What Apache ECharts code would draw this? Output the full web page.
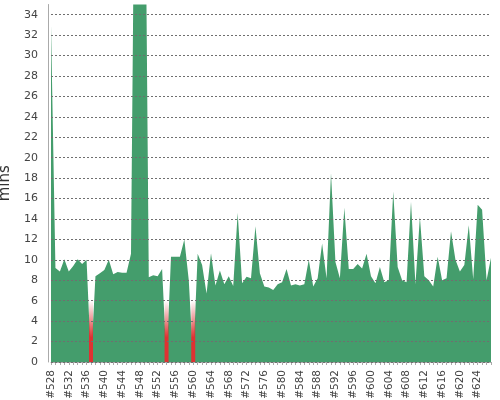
<!DOCTYPE html>
<html>
<head>
<meta charset="utf-8">
<script src="https://cdn.jsdelivr.net/npm/echarts@6/dist/echarts.min.js"></script>
<style>
  html, body { margin: 0; padding: 0; background: #fff; }
  #chart { width: 500px; height: 400px; }
</style>
</head>
<body>
<div id="chart"></div>
<script>
// build numbers #528 .. #627
const builds = Array.from({ length: 100 }, (_, i) => '#' + (528 + i));

// duration of successful builds (mins), 0 where the build failed
const successMins = [
  33, 9.2, 8.85, 10.05, 8.85, 9.4, 10.05, 9.6, 10.0, 0,
  8.4, 8.7, 9.0, 10.0, 8.6, 8.8, 8.75, 8.75, 10.6, 60,
  60, 60, 8.3, 8.5, 8.4, 9.1, 0, 10.3, 10.3, 10.3,
  12.0, 8.0, 0, 10.6, 9.5, 6.7, 10.65, 7.5, 8.95, 7.6,
  8.4, 7.45, 14.6, 7.7, 8.35, 8.2, 13.3, 8.7, 7.4, 7.3,
  7.05, 7.6, 7.8, 9.1, 7.5, 7.6, 7.5, 7.6, 10.0, 7.4,
  8.2, 11.6, 8.2, 18.5, 9.8, 8.2, 15.1, 9.1, 9.1, 9.6,
  9.15, 10.6, 8.4, 7.7, 9.3, 7.8, 8.0, 16.7, 9.3, 8.0,
  7.8, 15.7, 7.6, 14.2, 8.4, 8.0, 7.4, 10.3, 8.0, 8.2,
  12.8, 10.0, 8.85, 9.5, 13.4, 8.1, 15.4, 14.9, 8.0, 10.2
];

// failed builds (#537, #554, #560)
const failedMins = builds.map(() => null);
failedMins[9] = 6;
failedMins[26] = 6;
failedMins[32] = 6;

const FONT = 'DejaVu Sans';

const chart = echarts.init(document.getElementById('chart'), null, { renderer: 'canvas' });
const option = {
    animation: false,
    backgroundColor: '#fff',
    grid: { left: 51, right: 9, top: 4.5, bottom: 38, outerBoundsMode: 'none', containLabel: false },
    xAxis: {
        type: 'category',
        data: builds,
        boundaryGap: false,
        offset: 3,
        axisLine: { lineStyle: { color: '#aaa', width: 1 } },
        axisTick: { show: true, interval: 0, length: 3, lineStyle: { color: '#aaa' } },
        axisLabel: {
            interval: 3,
            rotate: 90,
            margin: 5,
            color: '#444',
            fontSize: 10.5,
            fontFamily: FONT
        },
        splitLine: { show: false }
    },
    yAxis: {
        type: 'value',
        min: 0,
        max: 35,
        interval: 2,
        offset: 3,
        z: 4,
        name: 'mins',
        nameLocation: 'middle',
        nameGap: 21,
        nameTextStyle: { color: '#333', fontSize: 15, fontFamily: FONT },
        axisLine: { show: true, lineStyle: { color: '#aaa', width: 1 } },
        axisTick: { show: false },
        axisLabel: {
            margin: 10,
            color: '#444',
            fontSize: 11,
            fontFamily: FONT,
            showMaxLabel: false
        },
        splitLine: {
            show: true,
            showMaxLine: false,
            lineStyle: { color: '#6f6f6f', width: 1, type: [2, 2] }
        }
    },
    series: [
        {
            name: 'success',
            type: 'line',
            data: successMins,
            symbol: 'none',
            z: 2,
            lineStyle: { width: 0 },
            areaStyle: { color: '#449d6c', opacity: 1 }
        },
        {
            name: 'failed',
            type: 'bar',
            data: failedMins,
            barWidth: 4,
            z: 3,
            itemStyle: {
                color: new echarts.graphic.LinearGradient(0, 0, 0, 1, [
                    { offset: 0, color: 'rgba(222,50,50,0)' },
                    { offset: 0.3, color: 'rgba(222,50,50,0.5)' },
                    { offset: 0.6, color: 'rgba(222,50,50,1)' },
                    { offset: 1, color: 'rgba(222,50,50,1)' }
                ])
            }
        }
    ]
};
chart.setOption(option);
</script>
</body>
</html>
